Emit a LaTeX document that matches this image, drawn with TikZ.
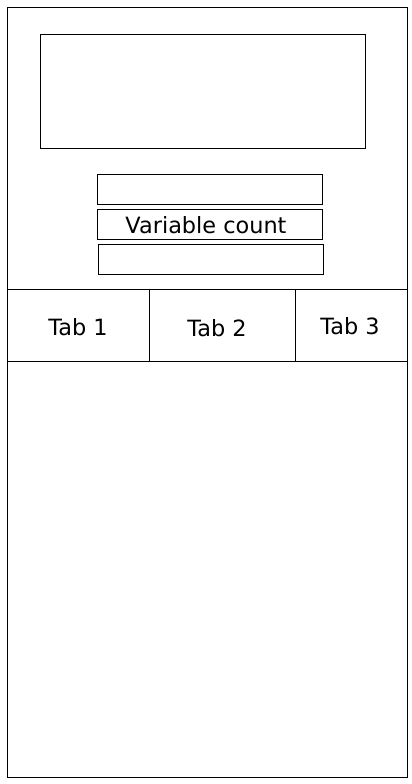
\documentclass[tikz,border=0pt]{standalone}
\usepackage{fontspec}
\setmainfont{DejaVu Sans}
\usepackage{tikz}

\begin{document}
\begin{tikzpicture}[x=1pt,y=-1pt,line width=0.9pt]
\tikzset{box/.style = {shape=rectangle,draw,inner sep=0pt}}
\tikzset{caption/.style = {inner sep=0pt,anchor=base,font=\fontsize{22.4}{26}\selectfont}}
\useasboundingbox (0,0) rectangle (412,784);
\node[box,minimum width=400pt,minimum height=770pt](frame) at (207,392) {};
\node[box,minimum width=324.7pt,minimum height=113.7pt](banner) at (202.7,91.2) {};
\node[box,minimum width=225pt,minimum height=29.7pt](field1) at (209.8,189.2) {};
\node[box,minimum width=225pt,minimum height=29.7pt](field2) at (209.8,224.2) {};
\node[box,minimum width=225pt,minimum height=29.7pt](field3) at (210.8,259.2) {};
\node[caption](count) at (206,233.3) {Variable count};
\node[box,minimum width=142.7pt,minimum height=72pt](tab1) at (78.35,325) {};
\node[box,minimum width=145.6pt,minimum height=72pt](tab2) at (222.5,325) {};
\node[box,minimum width=111.7pt,minimum height=72pt](tab3) at (351.15,325) {};
\node[caption](lab1) at (78,335) {Tab 1};
\node[caption](lab2) at (217,336.5) {Tab 2};
\node[caption](lab3) at (350,334.5) {Tab 3};
\end{tikzpicture}
\end{document}
